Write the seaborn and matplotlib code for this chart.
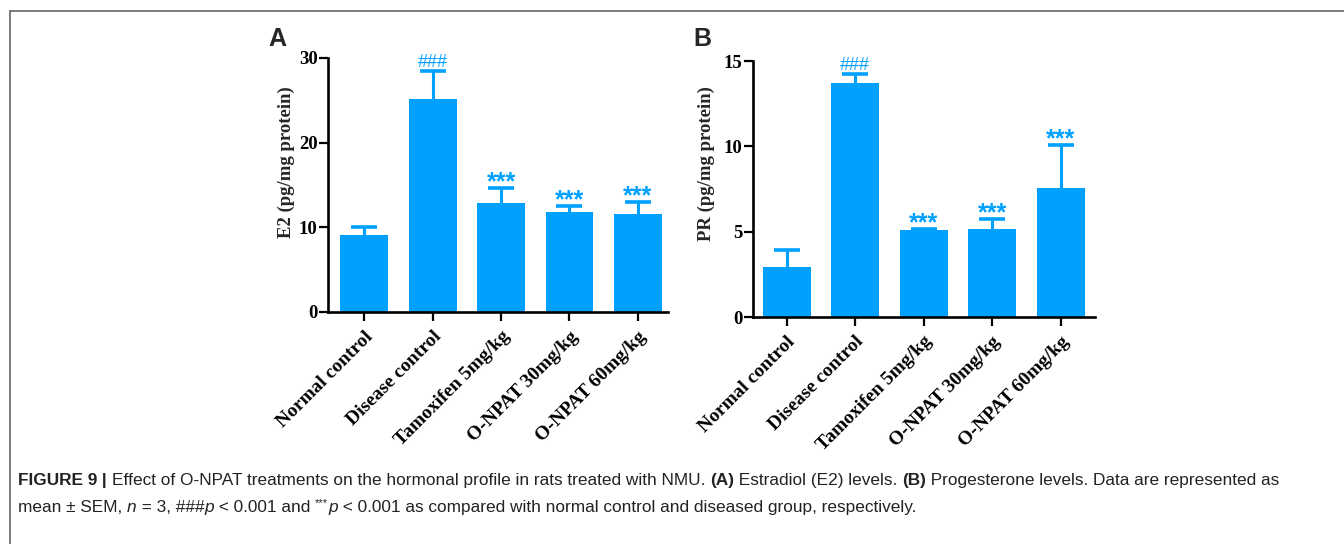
import matplotlib
matplotlib.use("Agg")
import matplotlib.pyplot as plt
import seaborn as sns
from matplotlib.lines import Line2D
from matplotlib.text import Annotation

# data
groups = ["Normal control", "Disease control", "Tamoxifen 5mg/kg",
          "O-NPAT 30mg/kg", "O-NPAT 60mg/kg"]
e2_mean = [9.1, 25.1, 12.85, 11.85, 11.55]
e2_sem = [0.9, 3.4, 1.85, 0.65, 1.45]
pr_mean = [2.95, 13.7, 5.12, 5.15, 7.57]
pr_sem = [0.95, 0.55, 0.05, 0.58, 2.53]
e2_marks = ["", "###", "***", "***", "***"]
pr_marks = ["", "###", "***", "***", "***"]

BLUE = "#00A0FF"

sns.set_style("ticks")
plt.rcParams["font.family"] = ["Liberation Serif", "DejaVu Serif"]

fig = plt.figure(figsize=(13.44, 5.44), dpi=100)


def draw_panel(rect, means, sems, marks, ylabel, ymax, yticks, xlim,
               label_xy, letter, letter_x):
    ax = fig.add_axes(rect)
    sns.barplot(x=groups, y=means, color=BLUE, saturation=1, width=0.7,
                errorbar=None, ax=ax, linewidth=0, zorder=2)
    xs = list(range(len(groups)))
    _, caps, _ = ax.errorbar(xs, means, yerr=[[0] * len(sems), sems], fmt="none",
                             ecolor=BLUE, elinewidth=2.2, capsize=9.7,
                             capthick=2.6, zorder=1)
    caps[0].set_visible(False)  # only the upper half of the SEM bar is shown
    for x, m, s, t in zip(xs, means, sems, marks):
        if t == "***":
            ax.annotate(t, (x, m + s), xytext=(0, -1), textcoords="offset points",
                        ha="center", va="baseline", color=BLUE, fontsize=18,
                        family="Liberation Sans", fontweight="bold")
        elif t:
            ax.annotate(t, (x, m + s), xytext=(0, 3), textcoords="offset points",
                        ha="center", va="baseline", color=BLUE, fontsize=13,
                        family="Liberation Sans")
    ax.set_xlim(*xlim)
    ax.set_ylim(0, ymax)
    ax.set_yticks(yticks)
    ax.set_ylabel(ylabel, fontsize=13.5, fontweight="bold")
    ax.yaxis.set_label_coords(*label_xy)
    ax.set_xlabel("")
    for lab in ax.get_yticklabels():
        lab.set_fontweight("bold")
        lab.set_fontsize(13.5)
    ax.set_xticks(xs)
    ax.set_xticklabels(groups, rotation=45, ha="right", va="top",
                       rotation_mode="anchor", fontsize=14, fontweight="bold")
    sns.despine(ax=ax)
    for sp in ["left", "bottom"]:
        ax.spines[sp].set_linewidth(1.9)
        ax.spines[sp].set_color("black")
    ax.tick_params(width=1.6, length=6.5, colors="black")
    ax.tick_params(axis="y", pad=1)
    ax.tick_params(axis="x", pad=5)
    fig.text(letter_x, 1 - 27 / 544, letter, fontsize=18, fontweight="bold",
             family="Liberation Sans", va="top", ha="left")
    return ax


ax1 = draw_panel([328 / 1344, 1 - 312 / 544, 340 / 1344, 254 / 544],
                 e2_mean, e2_sem, e2_marks, "E2 (pg/mg protein)", 30,
                 [0, 10, 20, 30], (-0.53, 4.44), (-0.097, 0.59), "A", 268 / 1344)
ax2 = draw_panel([753 / 1344, 1 - 317 / 544, 342 / 1344, 256 / 544],
                 pr_mean, pr_sem, pr_marks, "PR (pg/mg protein)", 15,
                 [0, 5, 10, 15], (-0.49, 4.5), (-0.11, 0.60), "B", 693 / 1344)

# open frame: top and left border lines
fig.add_artist(Line2D([9.5 / 1344, 1], [1 - 11 / 544] * 2, color="#666666", lw=1.2))
fig.add_artist(Line2D([9.5 / 1344] * 2, [0, 1 - 11 / 544], color="#666666", lw=1.2))

# caption, drawn piece by piece so bold/italic parts can mix
CAP = 12.4
B = {"fontweight": "bold"}
N = {}
I = {"fontstyle": "italic"}

line1 = [("FIGURE 9", B), (" | ", B),
         ("Effect of O-NPAT treatments on the hormonal profile in rats treated with NMU. ", N),
         ("(A)", B), (" Estradiol (E2) levels. ", N), ("(B)", B),
         (" Progesterone levels. Data are represented as", N)]
line2 = [("mean \u00b1 SEM, ", N), ("n", I), (" = 3, ###", N), ("p", I),
         (" < 0.001 and ", N), ("***", {"fontsize": CAP * 0.65, "dy": 5}), ("p", I),
         (" < 0.001 as compared with normal control and diseased group, respectively.", N)]

for parts, ypix in [(line1, 488), (line2, 515)]:
    yfig = 1 - ypix / 544
    last = None
    for s, kw in parts:
        style = dict(fontsize=CAP, family="Liberation Sans", color="#222222")
        style.update(kw)
        dy = style.pop("dy", 0)
        if last is None:
            last = fig.text(18 / 1344, yfig, s, va="bottom", ha="left", **style)
        else:
            last = fig.add_artist(Annotation(
                s, xy=(1, yfig), xycoords=(last, "figure fraction"),
                xytext=(0, dy), textcoords="offset points",
                va="bottom", ha="left", **style))

fig.savefig("out.png", dpi=100)
